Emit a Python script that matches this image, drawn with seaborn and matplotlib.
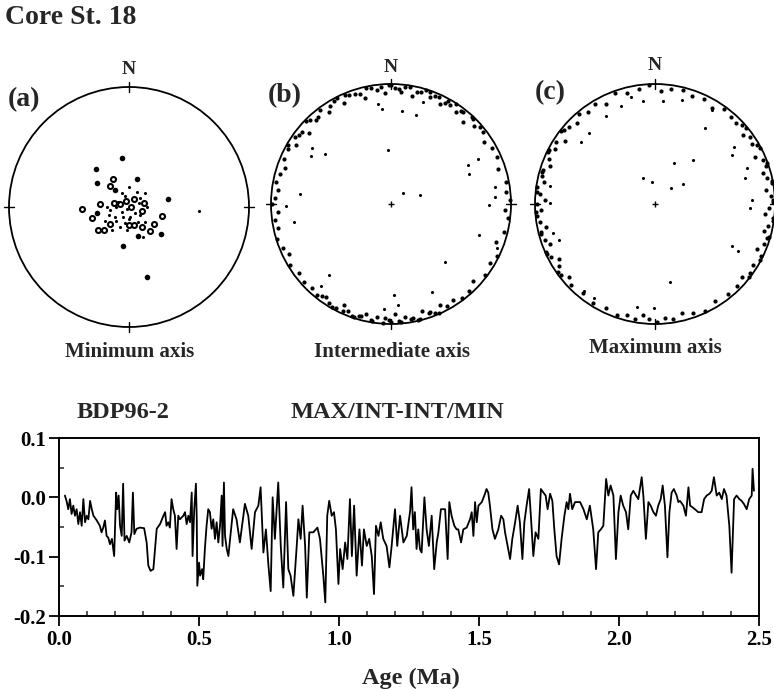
import numpy as np
import pandas as pd
import seaborn as sns
import matplotlib.pyplot as plt
from matplotlib.patches import Circle
from matplotlib.ticker import MultipleLocator, FormatStrFormatter

# ---- stereonet (a): minimum axes, east / north components on the unit net
a_full_east = [-0.056, -0.278, -0.269, 0.069, 0.328, 0.264, -0.047, 0.147, -0.269, -0.117, 0.078]
a_full_north = [0.411, 0.314, 0.197, 0.233, 0.064, -0.228, -0.325, -0.586, -0.053, 0.142, -0.239]
a_open_east = [-0.394, -0.133, -0.156, -0.242, -0.306, -0.075, -0.025, 0.044, 0.128, 0.014, 0.106,
               0.278, 0.208, 0.042, 0.106, 0.175, -0.208, -0.256, 0.003, -0.125, -0.158]
a_open_north = [-0.017, 0.231, 0.175, 0.025, -0.094, 0.025, 0.047, 0.064, 0.031, 0.003, -0.031,
                -0.075, -0.144, -0.150, -0.169, -0.200, -0.192, -0.192, -0.150, 0.031, -0.142]
a_small_east = [0.003, 0.064, 0.133, -0.061, -0.033, 0.092, -0.108, -0.158, -0.061, -0.019, 0.050,
                0.092, -0.117, -0.053, 0.003, -0.108, -0.014, -0.075, 0.078, 0.133, -0.200, 0.147,
                0.008, -0.164, -0.089, 0.081, -0.033, -0.144, 0.119, -0.186, 0.586]
a_small_north = [0.169, 0.128, 0.119, 0.114, 0.092, 0.072, -0.003, -0.025, -0.039, -0.019, -0.047,
                 -0.067, -0.086, -0.086, -0.103, -0.114, -0.192, -0.164, -0.122, -0.122, -0.114, -0.003,
                 -0.081, -0.067, 0.044, 0.031, -0.136, -0.192, -0.247, 0.003, -0.031]

# ---- stereonet (b): intermediate axes, rim points as declination / radius
b_dec = [298, 302, 305, 309, 311, 316, 318, 323, 326, 328, 333, 335, 339, 344, 346, 350, 353, 357, 359,
         2, 5, 7, 11, 13, 17, 20, 22, 26, 29, 31, 35, 38, 41, 44, 47, 52, 56, 61,
         66, 72, 79, 84, 88, 93, 97, 104, 110, 116, 121, 127, 133, 138, 143, 147,
         151, 154, 158, 161, 164, 167, 170, 173, 176, 178, 181, 184, 187, 190, 193, 196, 199, 202,
         205, 208, 212, 215, 219, 223, 228,
         233, 239, 244, 248, 253, 258, 262, 266, 270, 273, 277, 281, 285, 289, 293,
         300, 307, 314, 320, 331, 337, 342, 348, 355, 0, 4, 9, 15, 19, 24, 28, 33, 37, 43, 49,
         156, 160, 166, 169, 175, 180, 183, 189, 195, 198, 204, 210, 217]
b_r = [0.97, 0.93, 0.98, 0.95, 0.90, 0.97, 0.94, 0.98, 0.92, 0.96, 0.99, 0.93, 0.97, 0.95, 0.91, 0.98,
       0.96, 0.93, 0.99, 0.97, 0.94, 0.98, 0.92, 0.96, 0.99, 0.95, 0.97, 0.93, 0.98, 0.96, 0.94, 0.97,
       0.91, 0.98, 0.95, 0.97, 0.93, 0.96,
       0.97, 0.94, 0.98, 0.96, 0.99, 0.95, 0.98, 0.97, 0.93, 0.98, 0.96, 0.98, 0.94, 0.97, 0.98, 0.95,
       0.97, 0.94, 0.98, 0.96, 0.93, 0.99, 0.97, 0.95, 0.98, 0.92, 0.97, 0.99, 0.95, 0.98, 0.94, 0.97,
       0.99, 0.96, 0.93, 0.98, 0.97, 0.95, 0.98, 0.96, 0.97,
       0.96, 0.98, 0.95, 0.97, 0.99, 0.96, 0.98, 0.94, 0.99, 0.97, 0.95, 0.98, 0.96, 0.93, 0.97,
       0.99, 0.96, 0.99, 0.95, 0.98, 0.99, 0.96, 0.99, 0.98, 0.99, 0.96, 0.99, 0.97, 0.99, 0.98, 0.95,
       0.99, 0.97, 0.99, 0.98,
       0.99, 0.96, 0.99, 0.97, 0.99, 0.98, 0.95, 0.99, 0.97, 0.99, 0.98, 0.99, 0.96]
b_in_east = [-0.028, 0.102, 0.245, -0.661, -0.664, -0.554, -0.758, -0.876, -0.807, 0.639, 0.653, 0.722,
             0.818, 0.868, 0.730, 0.452, 0.344, 0.025, -0.518, -0.587, -0.055, 0.061, 0.212, 0.094,
             -0.110, -0.077, 0.267, 0.868, 0.887]
b_in_north = [0.446, 0.088, 0.074, 0.468, 0.397, 0.419, 0.080, -0.014, -0.146, 0.328, 0.253, 0.377,
              -0.008, 0.143, -0.256, -0.482, -0.730, -0.760, -0.595, -0.683, -0.871, -0.840, 0.744,
              0.777, 0.832, 0.791, 0.854, 0.061, -0.366]

# ---- stereonet (c): maximum axes
c_dec = [226, 230, 233, 237, 240, 243, 246, 249, 252, 255, 258, 261, 264, 267, 270, 272, 275, 278, 281,
         284, 287, 290, 293, 296, 299, 302, 305, 309, 312, 316, 320, 324,
         329, 334, 340, 346, 352, 357, 3, 8, 14, 19, 25, 31, 36, 41,
         45, 48, 52, 55, 58, 62, 65, 68, 71, 74, 77, 80, 83, 86, 89, 92, 95, 98, 101, 104, 107, 110,
         114, 118, 122, 126, 130, 135,
         141, 148, 155, 161, 166, 171, 175, 179, 183, 186, 190, 194, 199, 205, 212, 219,
         235, 245, 256, 266, 276, 286, 297, 308,
         50, 60, 70, 79, 88, 97, 106, 116, 128]
c_r = [0.97, 0.94, 0.98, 0.95, 0.92, 0.97, 0.99, 0.94, 0.96, 0.98, 0.93, 0.97, 0.99, 0.95, 0.98, 0.92,
       0.96, 0.99, 0.94, 0.97, 0.98, 0.93, 0.96, 0.99, 0.95, 0.97, 0.92, 0.98, 0.96, 0.94, 0.98, 0.95,
       0.97, 0.93, 0.98, 0.95, 0.97, 0.99, 0.94, 0.97, 0.98, 0.95, 0.97, 0.93, 0.98, 0.96,
       0.96, 0.98, 0.93, 0.97, 0.95, 0.99, 0.92, 0.97, 0.98, 0.94, 0.96, 0.99, 0.93, 0.97, 0.98, 0.95,
       0.92, 0.99, 0.96, 0.94, 0.98, 0.97, 0.93, 0.99, 0.96, 0.98, 0.95, 0.97,
       0.97, 0.95, 0.98, 0.96, 0.94, 0.97, 0.95, 0.98, 0.96, 0.93, 0.97, 0.95, 0.98, 0.96, 0.97, 0.95,
       0.99, 0.99, 0.98, 0.99, 0.99, 0.98, 0.99, 0.99,
       0.99, 0.98, 0.99, 0.99, 0.98, 0.99, 0.99, 0.98, 0.99]
c_in_east = [0.157, 0.318, -0.099, -0.028, 0.130, 0.235, 0.122, -0.506, -0.588, 0.641, 0.691, 0.751,
             0.765, 0.655, 0.641, 0.420, 0.475, 0.227, 0.066, -0.099, -0.202, -0.285, -0.409, -0.616,
             -0.547, -0.878, -0.851, -0.796, -0.146, -0.008, 0.807, 0.793, -0.878]
c_in_north = [0.340, 0.367, 0.215, 0.180, 0.133, 0.169, -0.649, -0.787, -0.724, -0.351, -0.392, 0.215,
              0.298, 0.478, 0.409, 0.630, 0.782, 0.865, 0.859, 0.856, 0.892, 0.818, 0.732, 0.519,
              0.588, 0.008, -0.240, -0.296, -0.862, -0.870, 0.036, -0.033, 0.146]

# ---- BDP96-2 record: age (Ma) and MAX/INT-INT/MIN
age_ma = [0.021, 0.027, 0.033, 0.039, 0.045, 0.051, 0.057, 0.063, 0.069, 0.075,
          0.081, 0.087, 0.093, 0.099, 0.105, 0.111, 0.117, 0.123, 0.135, 0.146,
          0.152, 0.158, 0.164, 0.170, 0.176, 0.182, 0.189, 0.197, 0.204, 0.208,
          0.213, 0.218, 0.224, 0.229, 0.234, 0.242, 0.251, 0.259, 0.264, 0.269,
          0.277, 0.289, 0.304, 0.313, 0.319, 0.327, 0.337, 0.343, 0.349, 0.361,
          0.373, 0.379, 0.384, 0.390, 0.396, 0.402, 0.408, 0.414, 0.420, 0.426,
          0.432, 0.444, 0.450, 0.456, 0.462, 0.468, 0.474, 0.477, 0.483, 0.489,
          0.492, 0.494, 0.500, 0.504, 0.511, 0.515, 0.521, 0.527, 0.533, 0.539,
          0.545, 0.551, 0.557, 0.563, 0.569, 0.575, 0.581, 0.584, 0.589, 0.593,
          0.599, 0.605,
          0.611, 0.622, 0.634, 0.646, 0.664, 0.676, 0.688, 0.700, 0.712, 0.720,
          0.730, 0.739, 0.748, 0.756, 0.763, 0.771, 0.783, 0.792, 0.801, 0.811,
          0.819, 0.827, 0.837, 0.849, 0.855, 0.863, 0.870, 0.879, 0.885, 0.894,
          0.908, 0.923, 0.932, 0.944, 0.951, 0.958, 0.965, 0.974, 0.982, 0.989,
          0.998, 1.004, 1.013, 1.022, 1.030, 1.039, 1.046, 1.054, 1.063, 1.073,
          1.082, 1.089, 1.099, 1.108, 1.117, 1.125, 1.132, 1.141, 1.149, 1.158,
          1.170, 1.180, 1.188, 1.200, 1.208, 1.218, 1.230, 1.242, 1.254,
          1.259, 1.265, 1.271, 1.277, 1.283, 1.289, 1.295, 1.305, 1.313, 1.321,
          1.331, 1.340, 1.349, 1.355, 1.364, 1.373, 1.379, 1.388, 1.394, 1.402,
          1.412, 1.420, 1.426, 1.436, 1.444, 1.456, 1.468, 1.474, 1.480, 1.486,
          1.492, 1.498, 1.510, 1.519, 1.527, 1.533, 1.539, 1.548, 1.557, 1.569,
          1.579, 1.587, 1.593, 1.602, 1.611, 1.619, 1.629, 1.638, 1.646, 1.655,
          1.662, 1.670, 1.679, 1.686, 1.694, 1.702, 1.712, 1.721, 1.730, 1.738,
          1.745, 1.754, 1.762, 1.769, 1.777, 1.786, 1.795, 1.805, 1.813, 1.819,
          1.825, 1.833, 1.843,
          1.861, 1.873, 1.885, 1.896, 1.908, 1.918, 1.926, 1.935, 1.944, 1.954,
          1.962, 1.970, 1.980, 1.989, 1.998, 2.006, 2.015, 2.025, 2.033, 2.042,
          2.051, 2.061, 2.069, 2.081, 2.087, 2.096, 2.105, 2.113, 2.123, 2.132,
          2.140, 2.149, 2.156, 2.164, 2.173, 2.180, 2.188, 2.196, 2.206, 2.212,
          2.218, 2.230, 2.239, 2.248, 2.254, 2.263, 2.271, 2.283, 2.295, 2.304,
          2.313, 2.323, 2.331, 2.339, 2.349, 2.358, 2.367, 2.375, 2.384, 2.394,
          2.402, 2.411, 2.420, 2.430, 2.438, 2.446, 2.456, 2.465, 2.474, 2.477,
          2.482]
ratio = [0.003, -0.006, -0.020, -0.003, -0.028, -0.014, -0.031, -0.020, -0.045, -0.025,
         -0.048, -0.003, -0.042, -0.031, -0.037, -0.006, -0.020, -0.031, -0.039, -0.048,
         -0.059, -0.051, -0.039, -0.065, -0.068, -0.079, -0.070, -0.099, 0.008, -0.020,
         0.003, -0.048, -0.065, 0.023, -0.073, -0.065, -0.076, -0.059, 0.008, -0.062,
         -0.053, -0.051, -0.052, -0.076, -0.115, -0.124, -0.121, -0.087, -0.053, -0.045,
         -0.031, -0.025, -0.048, -0.042, -0.051, -0.003, -0.020, -0.031, -0.087, -0.031,
         -0.037, -0.031, -0.025, -0.045, -0.031, -0.042, 0.008, -0.099, -0.020, 0.023,
         -0.037, -0.149, -0.110, -0.132, -0.121, -0.138, -0.087, -0.048, -0.020, -0.025,
         -0.053, -0.037, -0.070, -0.042, -0.076, -0.048, 0.003, -0.082, 0.025, -0.065,
         -0.087, -0.099,
         -0.070, -0.020, -0.037, -0.076, -0.011, -0.031, -0.087, -0.025, -0.014, 0.017,
         -0.093, -0.054, -0.115, -0.158, 0.000, -0.070, 0.025, -0.082, -0.152, -0.008,
         -0.121, -0.132, -0.166, -0.082, -0.037, -0.070, -0.014, -0.082, -0.169, -0.059,
         -0.059, -0.051, -0.070, -0.132, -0.177, -0.031, -0.006, -0.031, -0.025, -0.054,
         -0.146, -0.087, -0.121, -0.076, -0.104, -0.003, -0.099, -0.014, -0.132, -0.054,
         -0.115, -0.054, -0.082, -0.070, -0.099, -0.163, -0.048, -0.065, -0.042, -0.070,
         -0.082, -0.118, -0.082, -0.020, -0.082, -0.031, -0.076, -0.065, -0.023,
         0.017, -0.054, -0.025, -0.087, -0.054, -0.087, -0.093, 0.000, -0.054, -0.082,
         -0.031, -0.121, -0.076, -0.059, -0.020, -0.020, -0.020, -0.104, -0.008, -0.031,
         -0.048, -0.054, -0.054, -0.076, -0.054, -0.051, -0.037, -0.025, -0.065, -0.008,
         -0.042, -0.014, -0.008, 0.003, 0.014, 0.008, -0.014, -0.054, -0.070, -0.054,
         -0.031, -0.037, -0.059, -0.082, -0.104, -0.070, -0.042, -0.014, -0.042, -0.104,
         -0.042, -0.014, 0.014, -0.037, -0.099, -0.059, -0.070, 0.014, 0.008, 0.003,
         -0.020, 0.006, -0.006, -0.054, -0.099, -0.113, -0.070, -0.031, -0.008, -0.020,
         0.006, -0.020, -0.008,
         -0.008, -0.020, -0.037, -0.014, -0.054, -0.121, -0.059, -0.054, -0.048, 0.031,
         0.003, 0.020, 0.003, -0.104, -0.025, 0.003, -0.014, -0.025, -0.054, 0.003,
         0.011, 0.003, -0.003, 0.034, 0.003, -0.070, -0.008, -0.014, -0.025, -0.031,
         -0.014, -0.003, 0.020, -0.014, -0.101, -0.025, 0.008, 0.014, 0.003, -0.008,
         -0.006, -0.014, -0.031, 0.017, -0.014, -0.017, -0.020, -0.025, -0.025, -0.003,
         0.003, 0.006, 0.011, 0.034, 0.003, 0.008, -0.003, 0.014, 0.003, -0.048,
         -0.127, -0.003, 0.003, -0.003, -0.006, -0.011, -0.020, -0.003, 0.003, 0.048,
         0.011]

sns.set_style("ticks")
plt.rcParams["font.family"] = ["Liberation Serif", "DejaVu Serif"]
plt.rcParams["font.weight"] = "bold"
plt.rcParams["axes.unicode_minus"] = False

W, H = 774, 689
fig = plt.figure(figsize=(W / 100, H / 100), dpi=100)


def box(x0, y0, w, h):
    # axes placed in pixel units of the reference
    return fig.add_axes([x0 / W, 1 - (y0 + h) / H, w / W, h / H])


def rim_to_xy(dec, r):
    d = np.radians(dec)
    return np.asarray(r) * np.sin(d), np.asarray(r) * np.cos(d)


def stereonet(ax, layers, cross=True):
    ax.add_patch(Circle((0, 0), 1, fill=False, ec="black", lw=1.3))
    for ang in (0, 90, 180, 270):
        t = np.radians(ang)
        ax.plot([0.96 * np.sin(t), 1.045 * np.sin(t)], [0.96 * np.cos(t), 1.045 * np.cos(t)],
                color="black", lw=1.0)
    for east, north, kw in layers:
        sns.scatterplot(x=east, y=north, ax=ax, legend=False, **kw)
    if cross:
        ax.plot([0], [0], marker="+", color="black", ms=5, mew=1.0)
    lim = 130 / 120
    ax.set_xlim(-lim, lim)
    ax.set_ylim(-lim, lim)
    ax.set_aspect("equal")
    ax.axis("off")


full = dict(marker="o", s=16, color="black", edgecolor="black", linewidth=0)
ring = dict(marker="o", s=13, color="white", edgecolor="black", linewidth=1.5)
tiny = dict(marker="o", s=5, color="black", edgecolor="black", linewidth=0)
rimdot = dict(marker="o", s=9, color="black", edgecolor="black", linewidth=0)

ax_a = box(129 - 130, 207 - 130, 260, 260)
stereonet(ax_a, [(a_open_east, a_open_north, ring),
                 (a_full_east, a_full_north, full),
                 (a_small_east, a_small_north, tiny)], cross=False)

bx, by = rim_to_xy(b_dec, b_r)
ax_b = box(391 - 130, 204 - 130, 260, 260)
stereonet(ax_b, [(bx, by, rimdot), (b_in_east, b_in_north, tiny)])

cx, cy = rim_to_xy(c_dec, c_r)
ax_c = box(655 - 130, 204 - 130, 260, 260)
stereonet(ax_c, [(cx, cy, rimdot), (c_in_east, c_in_north, tiny)])


def label(x, y, s, size, ha="center"):
    fig.text(x / W, 1 - y / H, s, ha=ha, va="center", fontsize=size, fontweight="bold")


label(5, 18, "Core St. 18", 20, ha="left")
for x, y in [(129, 70), (391, 68), (655, 66)]:
    label(x, y, "N", 14)
label(8, 100, "(a)", 20, ha="left")
label(268, 96, "(b)", 20, ha="left")
label(535, 93, "(c)", 20, ha="left")
label(130, 352, "Minimum axis", 15)
label(392, 352, "Intermediate axis", 15)
label(655, 348, "Maximum axis", 15)
label(123, 413, "BDP96-2", 17.5)
label(397, 413, "MAX/INT-INT/MIN", 17.5)
label(411, 678, "Age (Ma)", 17.5)

# ---- time series
df = pd.DataFrame({"age": age_ma, "ratio": ratio})
ax = box(59, 438, 700, 178)
sns.lineplot(data=df, x="age", y="ratio", ax=ax, color="black", lw=1.3,
             estimator=None, sort=False)
ax.set_xlim(0, 2.5)
ax.set_ylim(-0.2, 0.1)
ax.xaxis.set_major_locator(MultipleLocator(0.5))
ax.xaxis.set_minor_locator(MultipleLocator(0.1))
ax.yaxis.set_major_locator(MultipleLocator(0.1))
ax.yaxis.set_minor_locator(MultipleLocator(0.05))
ax.xaxis.set_major_formatter(FormatStrFormatter("%.1f"))
ax.yaxis.set_major_formatter(FormatStrFormatter("%.1f"))
ax.tick_params(which="major", direction="out", length=7, width=1.3, labelsize=15,
               bottom=True, left=True, top=False, right=False, pad=2, colors="black")
ax.tick_params(axis="x", which="major", pad=3)
ax.tick_params(which="minor", direction="in", length=3.5, width=1.1,
               bottom=True, left=True, top=False, right=False)
ax.set_xlabel("")
ax.set_ylabel("")
for sp in ax.spines.values():
    sp.set_visible(True)
    sp.set_linewidth(1.4)
    sp.set_color("black")

fig.savefig("out.png", dpi=100)
